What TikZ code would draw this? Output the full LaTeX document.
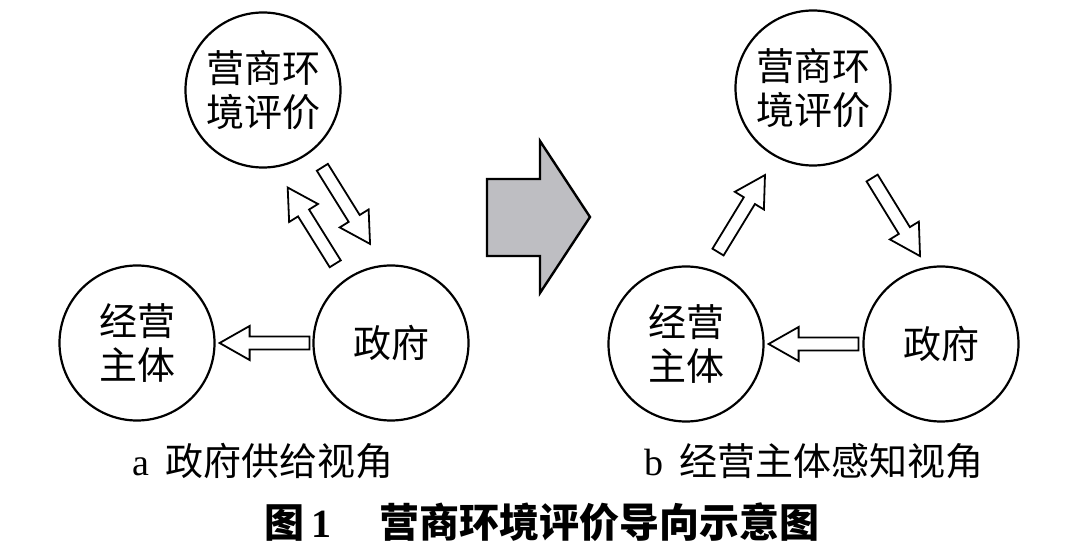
\documentclass[tikz,border=0pt]{standalone}
\usepackage{fontspec}
\setmainfont{Liberation Serif}
\newfontfamily\cjk{Noto Sans CJK SC}
\usetikzlibrary{calc}
\definecolor{arrowgray}{RGB}{190,190,194}
\tikzstyle{every path}=[line join=miter]
\tikzstyle{circ}=[draw,circle,line width=2.2pt,minimum size=155pt,inner sep=0pt,align=center,font=\cjk\fontsize{38}{44}\selectfont]
\tikzstyle{hollow}=[draw,fill=white,line width=1.8pt]
\tikzstyle{caption}=[inner sep=0pt,font=\fontsize{38}{44}\selectfont]
\tikzstyle{figtitle}=[inner sep=0pt,font=\fontsize{40}{46}\selectfont\bfseries]

% outlined block arrow, #1 = tail, #2 = tip
\newcommand{\blockarrow}[2]{%
    \path ($(#2)!30pt!(#1)$) coordinate (neck);
    \draw[hollow] ($(#1)!6.5pt!90:(#2)$) -- ($(neck)!6.5pt!90:(#2)$)
    -- ($(neck)!17pt!90:(#2)$) -- (#2)
    -- ($(neck)!17pt!-90:(#2)$) -- ($(neck)!6.5pt!-90:(#2)$)
    -- ($(#1)!6.5pt!-90:(#2)$) -- cycle;
}

\begin{document}
\begin{tikzpicture}[x=1pt,y=-1pt]
    \useasboundingbox (0,0) rectangle (1074,545);

    % Circles of view a
    \node[circ] (envA) at (263,90) {营商环\\境评价};
    \node[circ] (firmA) at (137,343) {经营\\主体};
    \node[circ] (govA) at (391,343) {政府};

    % Circles of view b
    \node[circ] (envB) at (813,88) {营商环\\境评价};
    \node[circ] (firmB) at (686,344) {经营\\主体};
    \node[circ] (govB) at (941,344) {政府};

    % Free ends of the arrows in view a
    \coordinate (upA1) at ($(envA)!0.662!(govA)+(-12.5,6.3)$);
    \coordinate (upA2) at ($(envA)!0.346!(govA)+(-19.6,10)$);
    \coordinate (dnA1) at ($(envA)!0.338!(govA)+(16.1,-8.2)$);
    \coordinate (dnA2) at ($(envA)!0.655!(govA)+(23.2,-11.8)$);
    \coordinate (hA1) at ($(govA.west)+(-3,0)$);
    \coordinate (hA2) at ($(firmA.east)+(4,0)$);

    % Free ends of the arrows in view b
    \coordinate (upB1) at ($(firmB)!0.338!(envB)+(-10.9,-5.4)$);
    \coordinate (upB2) at ($(firmB)!0.6526!(envB)+(-3.9,-1.9)$);
    \coordinate (dnB1) at ($(envB)!0.3735!(govB)+(11.3,-5.6)$);
    \coordinate (dnB2) at ($(envB)!0.6925!(govB)+(18.4,-9.2)$);
    \coordinate (hB1) at ($(govB.west)+(-4,0)$);
    \coordinate (hB2) at ($(firmB.east)+(4,0)$);

    % Arrows of view a
    \blockarrow{upA1}{upA2}
    \blockarrow{dnA1}{dnA2}
    \blockarrow{hA1}{hA2}

    % Arrows of view b
    \blockarrow{upB1}{upB2}
    \blockarrow{dnB1}{dnB2}
    \blockarrow{hB1}{hB2}

    % Big arrow between the views
    \draw[fill=arrowgray,line width=2.4pt] (487,179) -- (540,179) -- (540,141)
    -- (590,217) -- (540,293) -- (540,256) -- (487,256) -- cycle;

    % Captions
    \node[caption] (capA) at (263,461) {a\hspace{0.4em}{\cjk 政府供给视角}};
    \node[caption] (capB) at (814,461) {b\hspace{0.4em}{\cjk 经营主体感知视角}};
    \node[figtitle] (fig) at (542,522) {{\cjk 图}\,1\hspace{1.2em}{\cjk 营商环境评价导向示意图}};

\end{tikzpicture}
\end{document}
